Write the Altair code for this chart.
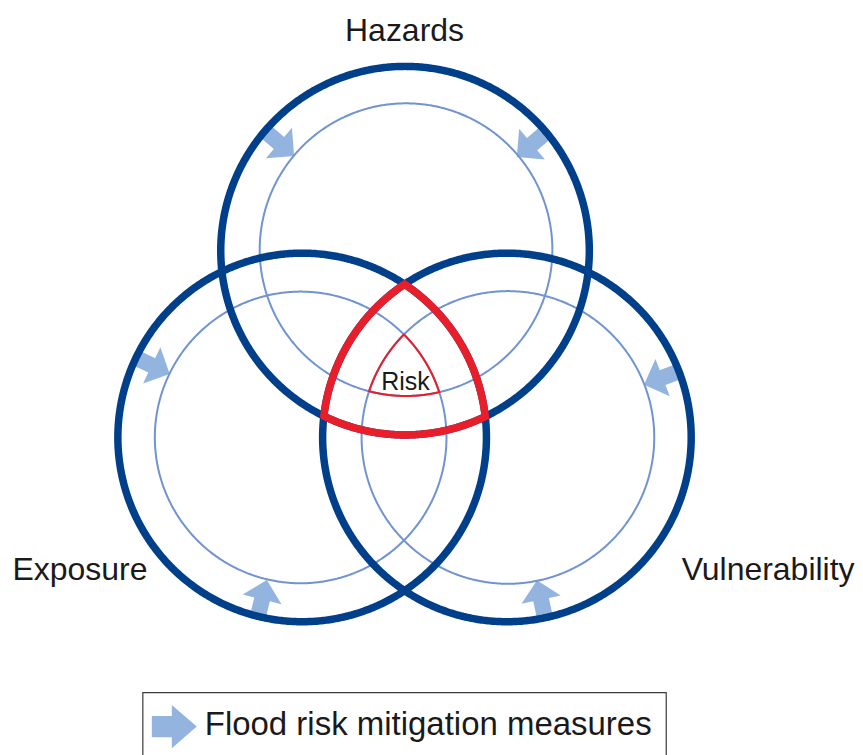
import numpy as np
import pandas as pd
import altair as alt

# ---------------- data ----------------
circle_names = ["Hazards", "Exposure", "Vulnerability"]
outer_cx = [405.5, 302.5, 507.5]
outer_cy = [250.5, 437.5, 437.5]
outer_r = [184.5, 184.5, 184.5]
inner_cx = [406.5, 301.0, 508.5]
inner_cy = [249.5, 437.5, 437.5]
inner_r = [146.5, 146.0, 146.5]

# arrows: which circle, position angle on circle (screen degrees), distance from centre
arrow_circle = [0, 0, 1, 1, 2, 2]
arrow_pos_deg = [220.5, 320.0, 205.6, 103.9, 339.0, 78.1]
arrow_dist = [166.0, 166.0, 167.0, 167.0, 167.0, 166.0]

label_text = ["Hazards", "Exposure", "Vulnerability"]
label_x = [405, 80, 769]
label_y = [41, 580, 580]

risk_text = ["Risk"]
legend_text = ["Flood risk mitigation measures"]

# ---------------- styles / layout ----------------
OUTER_COL = "#003f8a"
INNER_COL = "#7093d2"
ARROW_COL = "#94b4e0"
RED = "#e81e2b"
W, H = 847, 739
xs = alt.Scale(domain=[8, 8 + W], nice=False, zero=False)
ys = alt.Scale(domain=[8, 8 + H], nice=False, zero=False, reverse=True)


def circles_df(cxs, cys, rs, n=720):
    rows = []
    t = np.linspace(0, 2 * np.pi, n + 1)
    for i, (cx, cy, r) in enumerate(zip(cxs, cys, rs)):
        rows.append(pd.DataFrame({"id": i, "o": np.arange(n + 1),
                                  "x": cx + r * np.cos(t), "y": cy + r * np.sin(t)}))
    return pd.concat(rows, ignore_index=True)


def intersection_df(cxs, cys, rs, n=3600):
    c = np.array([np.mean(cxs), np.mean(cys)])
    phi = np.linspace(0, 2 * np.pi, n + 1)
    u = np.stack([np.cos(phi), np.sin(phi)], axis=1)
    ts = []
    for cx, cy, r in zip(cxs, cys, rs):
        d = c - np.array([cx, cy])
        b = u @ d
        t = -b + np.sqrt(b * b - (d @ d - r * r))
        ts.append(t)
    tmin = np.min(np.stack(ts), axis=0)
    pts = c + u * tmin[:, None]
    return pd.DataFrame({"o": np.arange(n + 1), "x": pts[:, 0], "y": pts[:, 1]})


def enc_xy(fx="x", fy="y"):
    return dict(x=alt.X(f"{fx}:Q", scale=xs, axis=None),
                y=alt.Y(f"{fy}:Q", scale=ys, axis=None))


outer_df = circles_df(outer_cx, outer_cy, outer_r)
inner_df = circles_df(inner_cx, inner_cy, inner_r)
red_outer = intersection_df(outer_cx, outer_cy, outer_r)
red_inner = intersection_df(inner_cx, inner_cy, inner_r)

ax, ay, rot = [], [], []
for ci, a, dd in zip(arrow_circle, arrow_pos_deg, arrow_dist):
    rad = np.deg2rad(a)
    ax.append(outer_cx[ci] + dd * np.cos(rad))
    ay.append(outer_cy[ci] + dd * np.sin(rad))
    rot.append((a + 180) % 360)
arrows_df = pd.DataFrame({"x": ax, "y": ay, "rot": rot})

ARROW_PATH = "M-1,-0.4 L0,-0.4 L0,-1 L1,0 L0,1 L0,0.4 L-1,0.4 Z"
LEG_ARROW_PATH = "M-1,-0.47 L-0.11,-0.47 L-0.11,-0.96 L1,0 L-0.11,0.96 L-0.11,0.47 L-1,0.47 Z"

legend_box = alt.Chart(pd.DataFrame({"x": [143], "x2": [667], "y": [693], "y2": [765]})).mark_rect(
    fill="white", stroke="#3a3a3a", strokeWidth=1.2
).encode(x=alt.X("x:Q", scale=xs, axis=None), x2="x2:Q",
         y=alt.Y("y:Q", scale=ys, axis=None), y2="y2:Q")

arrows = alt.Chart(arrows_df).mark_point(
    shape=ARROW_PATH, filled=True, fill=ARROW_COL, strokeWidth=0, opacity=1
).encode(**enc_xy(), angle=alt.Angle("rot:Q", scale=None), size=alt.value(1600))

inner = alt.Chart(inner_df).mark_line(color=INNER_COL, strokeWidth=2).encode(
    **enc_xy(), detail="id:N", order="o:Q")
outer = alt.Chart(outer_df).mark_line(color=OUTER_COL, strokeWidth=7.5).encode(
    **enc_xy(), detail="id:N", order="o:Q")
red1 = alt.Chart(red_outer).mark_line(color=RED, strokeWidth=7.5, strokeJoin="miter").encode(
    **enc_xy(), order="o:Q")
red2 = alt.Chart(red_inner).mark_line(color=RED, strokeWidth=2, strokeJoin="miter").encode(
    **enc_xy(), order="o:Q")

labels = alt.Chart(pd.DataFrame({"t": label_text, "x": label_x, "y": label_y})).mark_text(
    font="Liberation Sans", fontSize=32, align="center", baseline="alphabetic", color="#1a1a1a"
).encode(**enc_xy(), text="t:N")

risk = alt.Chart(pd.DataFrame({"t": risk_text, "x": [406], "y": [390]})).mark_text(
    font="Liberation Sans", fontSize=25, align="center", baseline="alphabetic", color="#1a1a1a"
).encode(**enc_xy(), text="t:N")

leg_arrow = alt.Chart(pd.DataFrame({"x": [174.5], "y": [727]})).mark_point(
    shape=LEG_ARROW_PATH, filled=True, fill=ARROW_COL, strokeWidth=0, opacity=1
).encode(**enc_xy(), size=alt.value(2025))

leg_text = alt.Chart(pd.DataFrame({"t": legend_text, "x": [205], "y": [735]})).mark_text(
    font="Liberation Sans", fontSize=33, align="left", baseline="alphabetic", color="#1a1a1a"
).encode(**enc_xy(), text="t:N")

chart = alt.layer(legend_box, arrows, inner, outer, red1, red2, labels, risk, leg_arrow, leg_text).properties(
    width=W, height=H, padding=0
).configure_view(strokeWidth=0)

chart.save("out.html", embed_options={"renderer": "svg", "actions": False})
